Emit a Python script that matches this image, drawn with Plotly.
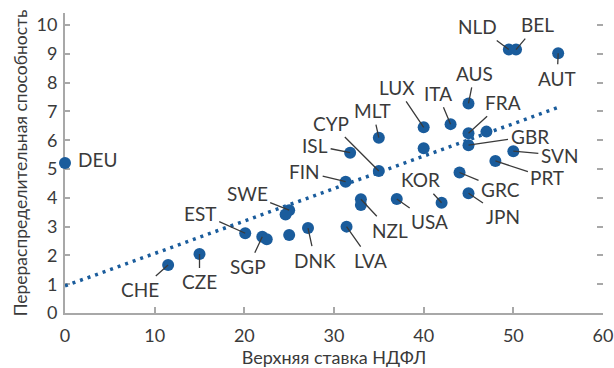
import plotly.graph_objects as go

# Top personal income tax rate (%) vs. redistributive capacity
countries = ["DEU", "CHE", "CZE", "EST", "SGP", "", "SWE", "", "", "DNK", "LVA",
             "NZL", "", "USA", "KOR", "JPN", "GRC", "PRT", "SVN", "GBR", "FRA", "",
             "AUS", "ITA", "LUX", "", "MLT", "ISL", "CYP", "FIN", "NLD", "BEL", "AUT"]
top_rate = [0.0, 11.5, 15.0, 20.1, 22.0, 22.5, 25.0, 24.6, 25.0, 27.1, 31.4,
            33.0, 33.0, 37.0, 42.0, 45.0, 44.0, 48.0, 50.0, 45.0, 45.0, 47.0,
            45.0, 43.0, 40.0, 40.0, 35.0, 31.8, 35.0, 31.3, 49.5, 50.3, 55.0]
redistribution = [5.21, 1.67, 2.05, 2.77, 2.65, 2.56, 3.57, 3.42, 2.71, 2.95, 3.0,
                  3.95, 3.75, 3.96, 3.83, 4.16, 4.88, 5.28, 5.62, 5.83, 6.24, 6.3,
                  7.28, 6.56, 6.45, 5.72, 6.09, 5.57, 4.93, 4.56, 9.15, 9.15, 9.02]

# Linear trend
trend_x = [0, 55]
trend_y = [0.94, 7.14]

x_ticks = [0, 10, 20, 30, 40, 50, 60]
y_ticks = list(range(0, 11))

# Label offsets in pixels (text centre relative to point)
label_offsets = {
    "CHE": (-28, 25), "CZE": (0, 28), "EST": (-45, -20), "SGP": (-14, 30),
    "SWE": (-42, -17), "DNK": (7, 32), "LVA": (24, 34), "NZL": (29, 31),
    "USA": (33, 23), "KOR": (-21, -23), "JPN": (34, 23), "GRC": (41, 17),
    "PRT": (52, 17), "SVN": (46, 4), "GBR": (61, -9), "FRA": (34, -31),
    "AUS": (6, -30), "ITA": (-13, -31), "LUX": (-27, -40), "MLT": (-6, -27),
    "CYP": (-48, -48), "ISL": (-35, -7), "FIN": (-41, -10), "NLD": (-31, -23),
    "BEL": (21, -25), "AUT": (-1, 25),
}

BLUE = "#1a5c9c"
TEXT = "#3a3a3a"
AXIS = "#a8a8a8"
FONT = "Lato, Noto Sans, sans-serif"
Y_RANGE = [0, 10.42]

fig = go.Figure()
# trend line sits on the overlaid right axis (same range) so its ticks are drawn
fig.add_trace(go.Scatter(
    x=trend_x, y=trend_y, mode="lines", yaxis="y2",
    line=dict(color=BLUE, width=3.5, dash="3px,5px"),
    hoverinfo="skip", showlegend=False,
))
fig.add_trace(go.Scatter(
    x=top_rate, y=redistribution, mode="markers",
    marker=dict(color=BLUE, size=12),
    cliponaxis=False, showlegend=False,
))

annotations = []
for name, xv, yv in zip(countries, top_rate, redistribution):
    if not name:
        continue
    if name == "DEU":
        annotations.append(dict(x=xv, y=yv, text=name, showarrow=False,
                                xanchor="left", yanchor="middle",
                                xshift=11, yshift=4,
                                font=dict(family=FONT, size=19, color=TEXT)))
        continue
    ax, ay = label_offsets[name]
    annotations.append(dict(x=xv, y=yv, text=name, showarrow=True,
                            ax=ax, ay=ay, arrowhead=0, arrowwidth=1.3,
                            arrowcolor=TEXT, standoff=0, borderpad=2,
                            font=dict(family=FONT, size=19, color=TEXT)))

fig.update_layout(
    width=614, height=368,
    margin=dict(l=65, r=11, t=13, b=55, autoexpand=False),
    paper_bgcolor="white", plot_bgcolor="white",
    font=dict(family=FONT, color=TEXT),
    showlegend=False,
    annotations=annotations,
    xaxis=dict(
        range=[0, 60], tickvals=x_ticks, ticks="inside", ticklen=6,
        tickcolor=AXIS, tickwidth=1.5, showline=True, linecolor=AXIS,
        linewidth=2, showgrid=False, zeroline=False, automargin=False,
        tickfont=dict(family=FONT, size=18, color=TEXT),
        ticklabelstandoff=5,
        title=dict(text="Верхняя ставка НДФЛ", standoff=2,
                   font=dict(family=FONT, size=18, color=TEXT)),
        layer="below traces",
    ),
    yaxis=dict(
        range=Y_RANGE, tickvals=y_ticks, ticks="inside", ticklen=5,
        tickcolor=AXIS, tickwidth=1.5, showline=True, linecolor=AXIS,
        linewidth=2, showgrid=False, zeroline=False, automargin=False,
        tickfont=dict(family=FONT, size=18, color=TEXT),
        ticklabelstandoff=2,
        title=dict(text="Перераспределительная способность", standoff=4,
                   font=dict(family=FONT, size=17.5, color=TEXT)),
        layer="below traces",
    ),
    yaxis2=dict(
        overlaying="y", side="right", range=Y_RANGE, tickvals=y_ticks,
        ticks="inside", ticklen=6, tickcolor=AXIS, tickwidth=1.5,
        showticklabels=False, showline=False, showgrid=False, zeroline=False,
        automargin=False,
    ),
)

fig.write_html("out.html")
